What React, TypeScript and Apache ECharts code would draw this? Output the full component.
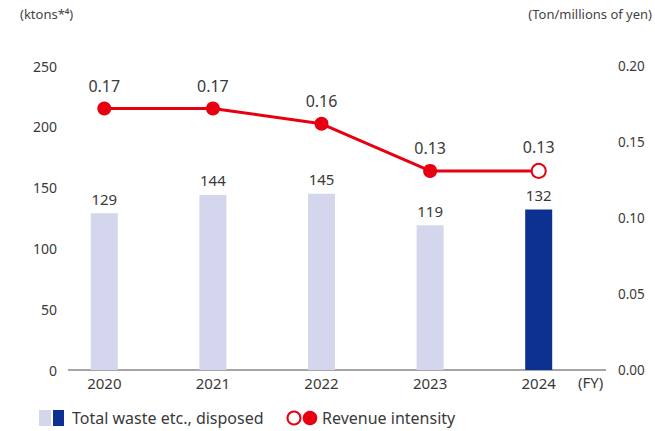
import React, { useEffect, useRef } from "react";
import * as echarts from "echarts";

const categories = ["2020", "2021", "2022", "2023", "2024"];
const wasteValues = [129, 144, 145, 119, 132];
const intensityValues = [0.172, 0.172, 0.162, 0.131, 0.131];
const leftTicks = [0, 50, 100, 150, 200, 250];
const rightTicks = [0, 0.05, 0.1, 0.15, 0.2];

const LIGHT = "#d3d6ec";
const DARK = "#0d3190";
const RED = "#e60012";
const FONT = "'Noto Sans', sans-serif";
const TXT = "#3a3a3a";

export default function App() {
  const ref = useRef<HTMLDivElement>(null);
  useEffect(() => {
    if (!ref.current) return;
    const chart = echarts.init(ref.current, undefined, { renderer: "svg" });
    const last = categories.length - 1;
    chart.setOption({
      animation: false,
      textStyle: { fontFamily: FONT },
      grid: { left: 50, right: 62, top: 66, bottom: 61 },
      xAxis: {
        type: "category",
        data: categories,
        axisLine: { show: false },
        axisTick: { show: false },
        axisLabel: { color: TXT, fontSize: 15, margin: 5, fontFamily: FONT },
      },
      yAxis: [
        {
          type: "value",
          min: leftTicks[0],
          max: leftTicks[leftTicks.length - 1],
          interval: 50,
          splitLine: { show: false },
          axisLine: { show: false },
          axisTick: { show: false },
          axisLabel: { color: TXT, fontSize: 14, margin: -7, fontFamily: FONT },
        },
        {
          type: "value",
          min: rightTicks[0],
          max: rightTicks[rightTicks.length - 1],
          interval: 0.05,
          splitLine: { show: false },
          axisLine: { show: false },
          axisTick: { show: false },
          axisLabel: {
            color: TXT,
            fontSize: 13.5,
            margin: 25,
            fontFamily: FONT,
            formatter: (v: number) => v.toFixed(2),
          },
        },
      ],
      series: [
        {
          type: "bar",
          yAxisIndex: 0,
          barWidth: 27,
          data: wasteValues.map((v, i) => ({
            value: v,
            itemStyle: { color: i === last ? DARK : LIGHT },
          })),
          label: {
            show: true,
            position: "top",
            distance: 7,
            color: TXT,
            fontSize: 15,
            fontFamily: FONT,
          },
        },
        {
          type: "line",
          yAxisIndex: 1,
          symbol: "circle",
          symbolSize: 14,
          lineStyle: { color: RED, width: 3 },
          data: intensityValues.map((v, i) => ({
            value: v,
            itemStyle:
              i === last
                ? { color: "#fff", borderColor: RED, borderWidth: 2 }
                : { color: RED, borderColor: RED, borderWidth: 0 },
          })),
          label: {
            show: true,
            position: "top",
            distance: 8,
            color: TXT,
            fontSize: 16,
            fontFamily: FONT,
            formatter: (p: any) => Number(p.value).toFixed(2),
          },
        },
      ],
      graphic: [
        {
          type: "line",
          shape: { x1: 68, y1: 370, x2: 606, y2: 370 },
          style: { stroke: "#888", lineWidth: 1.5 },
        },
        {
          type: "text",
          left: 20,
          top: 7,
          style: { text: "(ktons*⁴)", fill: "#444", fontSize: 13, fontFamily: FONT },
        },
        {
          type: "text",
          right: 3,
          top: 7,
          style: { text: "(Ton/millions of yen)", fill: "#444", fontSize: 13, fontFamily: FONT },
        },
        {
          type: "text",
          left: 578,
          top: 374,
          style: { text: "(FY)", fill: TXT, fontSize: 15, fontFamily: FONT },
        },
        { type: "rect", shape: { x: 39, y: 410, width: 12, height: 16 }, style: { fill: LIGHT } },
        { type: "rect", shape: { x: 53, y: 410, width: 11, height: 16 }, style: { fill: DARK } },
        {
          type: "text",
          x: 72,
          y: 418,
          style: {
            text: "Total waste etc., disposed",
            fill: TXT,
            fontSize: 16,
            fontFamily: FONT,
            verticalAlign: "middle",
          },
        },
        {
          type: "circle",
          shape: { cx: 294, cy: 418, r: 6.5 },
          style: { fill: "#fff", stroke: RED, lineWidth: 2 },
        },
        { type: "circle", shape: { cx: 310, cy: 418, r: 7.3 }, style: { fill: RED } },
        {
          type: "text",
          x: 322,
          y: 418,
          style: {
            text: "Revenue intensity",
            fill: TXT,
            fontSize: 16,
            fontFamily: FONT,
            verticalAlign: "middle",
          },
        },
      ],
    });
    return () => chart.dispose();
  }, []);
  return <div ref={ref} style={{ width: 655, height: 431, position: "absolute", left: 0, top: 0 }} />;
}
